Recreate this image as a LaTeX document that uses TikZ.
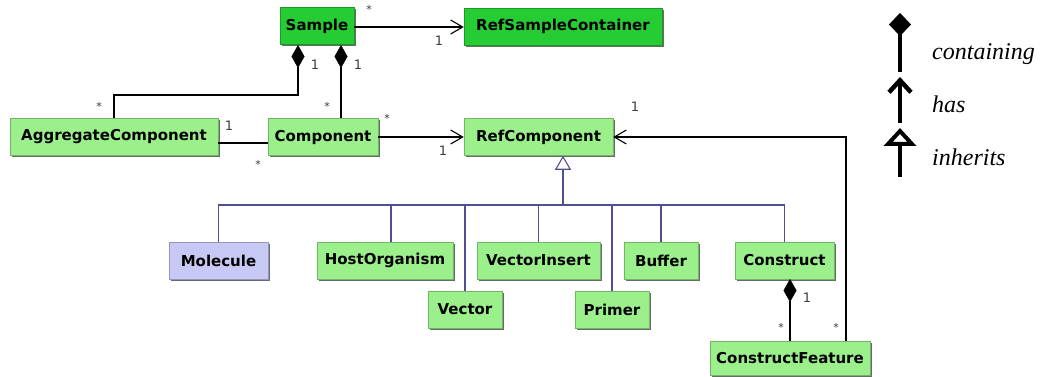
\documentclass[tikz,border=0pt]{standalone}
\usepackage{fontspec}
\setsansfont{DejaVu Sans}
\newfontfamily\legfont{Liberation Serif}
\usetikzlibrary{arrows.meta,shadows}
\definecolor{dgreen}{RGB}{38,204,52}
\definecolor{lgreen}{RGB}{155,240,140}
\definecolor{lavender}{RGB}{200,200,245}
\definecolor{navy}{RGB}{80,80,145}
\definecolor{shadowgray}{RGB}{100,110,100}
\definecolor{multgray}{RGB}{60,60,60}
\begin{document}
\begin{tikzpicture}[x=1pt,y=-1pt,
  cls/.style={rectangle, fill=lgreen, draw=lgreen!75!black, line width=0.5pt,
    font=\fontsize{15}{17}\sffamily\bfseries, inner sep=0pt, minimum height=37pt,
    general shadow={fill=shadowgray, shadow xshift=1.8pt, shadow yshift=-1.8pt}},
  dcls/.style={cls, fill=dgreen, draw=dgreen!75!black},
  mcls/.style={cls, fill=lavender, draw=lavender!75!black},
  conn/.style={draw=black, line width=1.2pt},
  has/.style={conn, -{Straight Barb[length=12pt,width=14pt,line width=1.1pt]}},
  contain/.style={conn, {Diamond[length=23pt,width=13pt,line width=0.5pt,fill=black]}-},
  inhline/.style={draw=navy, line width=1.4pt},
  inh/.style={inhline, {Triangle[open,length=14pt,width=16pt,line width=1.1pt,fill=white]}-},
  mult/.style={font=\fontsize{13}{14}\sffamily, text=multgray, inner sep=0pt},
  star/.style={font=\fontsize{11}{12}\sffamily, text=multgray, inner sep=0pt},
  leg/.style={line width=4.5pt, draw=black},
  legtext/.style={font=\fontsize{24}{26}\legfont\itshape, anchor=base west, inner sep=0pt}
]
\useasboundingbox (0,0) rectangle (1044,377);

% classes
\node[dcls, minimum width=74pt] (sample) at (317,26) {Sample};
\node[dcls, minimum width=198pt] (rsc) at (563,26.5) {RefSampleContainer};
\node[cls, minimum width=208pt] (agg) at (114,137) {AggregateComponent};
\node[cls, minimum width=110pt] (comp) at (323,137) {Component};
\node[cls, minimum width=149pt] (rc) at (538.5,137) {RefComponent};
\node[mcls, minimum width=99pt] (mol) at (218.5,260.5) {Molecule};
\node[cls, minimum width=136pt] (host) at (385,260.5) {HostOrganism};
\node[cls, minimum width=74pt] (vec) at (465,309.5) {Vector};
\node[cls, minimum width=123pt] (vins) at (538.5,260.5) {VectorInsert};
\node[cls, minimum width=74pt] (primer) at (612,309.5) {Primer};
\node[cls, minimum width=74pt] (buffer) at (661,260.5) {Buffer};
\node[cls, minimum width=99pt] (cons) at (784.5,260.5) {Construct};
\node[cls, minimum width=160pt, minimum height=34pt] (cf) at (790,358) {ConstructFeature};

% helper coordinates
\coordinate (d1) at (298,45);
\coordinate (d2) at (341,45);
\coordinate (bend1) at (298,95);
\coordinate (bus) at (563,205);
\coordinate (ret) at (846,341);
\coordinate (d3) at (790,279);

% associations
\draw[has] (sample.east |- 0,27) -- (rsc.west |- 0,27);
\draw[contain] (d1) -- (bend1) -| (agg.north);
\draw[contain] (d2) -- (d2 |- comp.north);
\draw[conn] ([yshift=-6pt]agg.east) -- ([yshift=-6pt]comp.west);
\draw[has] (comp.east) -- (rc.west);
\draw[has] (ret) |- (rc.east);
\draw[contain] (d3) -- (d3 |- cf.north);

% inheritance
\draw[inh] (bus |- rc.south) -- (bus);
\draw[inhline] (bus) -| (mol.north);
\draw[inhline] (bus) -| ([xshift=6pt]host.north);
\draw[inhline] (bus) -| (vec.north);
\draw[inhline] (bus) -| (vins.north);
\draw[inhline] (bus) -| (primer.north);
\draw[inhline] (bus) -| (buffer.north);
\draw[inhline] (bus) -| (cons.north);

% multiplicities
\node[star] (m1) at (369,9) {*};
\node[mult] (m2) at (439,41) {1};
\node[mult] (m3) at (315,65) {1};
\node[mult] (m4) at (358,65) {1};
\node[star] (m5) at (99,106) {*};
\node[star] (m6) at (327,106) {*};
\node[mult] (m7) at (229,126) {1};
\node[star] (m8) at (387,118) {*};
\node[star] (m9) at (258,164) {*};
\node[mult] (m10) at (443,151) {1};
\node[mult] (m11) at (635,107) {1};
\node[mult] (m12) at (807,298) {1};
\node[star] (m13) at (781,327) {*};
\node[star] (m14) at (836,327) {*};

% legend
\coordinate (l1a) at (900,13);
\coordinate (l1b) at (900,72);
\coordinate (l2a) at (900,77);
\coordinate (l2b) at (900,123);
\coordinate (l3a) at (900,128);
\coordinate (l3b) at (900,177);
\draw[leg, {Diamond[length=23pt,width=22pt,line width=0.5pt,fill=black]}-] (l1a) -- (l1b);
\draw[leg, {Straight Barb[length=12pt,width=22pt,line width=4.5pt]}-] (l2a) -- (l2b);
\draw[leg, {Triangle[open,length=18pt,width=32pt,line width=4pt,fill=white]}-] (l3a) -- (l3b);
\node[legtext] (t1) at (932,60) {containing};
\node[legtext] (t2) at (932,113) {has};
\node[legtext] (t3) at (932,165) {inherits};
\end{tikzpicture}
\end{document}
